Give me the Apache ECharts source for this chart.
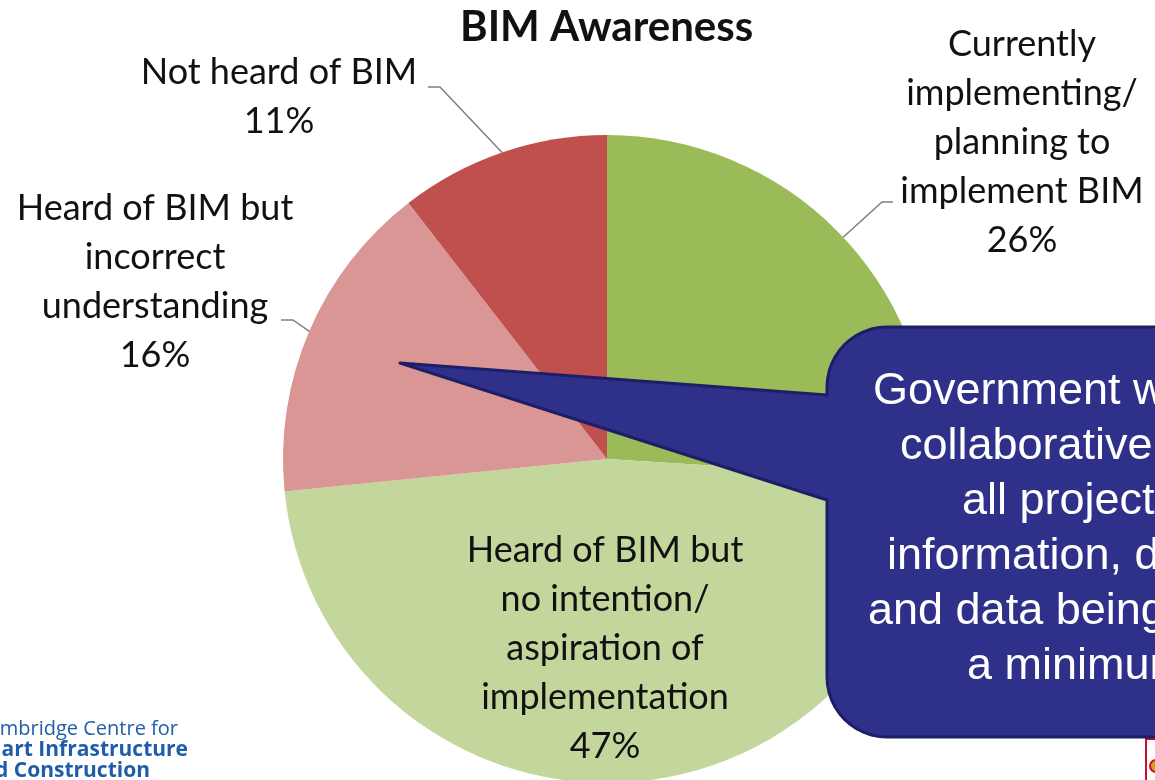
<!DOCTYPE html>
<html lang="en">
<head>
  <meta charset="UTF-8">
  <title>BIM Awareness</title>
  <script src="https://cdn.jsdelivr.net/npm/echarts@6/dist/echarts.min.js"></script>
  <style>
    html, body { margin: 0; padding: 0; background: #fff; }
    #chart { width: 1155px; height: 780px; }
  </style>
</head>
<body>
  <div id="chart"></div>
  <script>
    // data (clockwise from 12 o'clock), slice sizes estimated from the angles
    const categories = [
      'Currently\nimplementing/\nplanning to\nimplement BIM',
      'Heard of BIM but\nno intention/\naspiration of\nimplementation',
      'Heard of BIM but\nincorrect\nunderstanding',
      'Not heard of BIM'
    ];
    const shares = [26, 47.4, 16.1, 10.5];
    const sliceColors = ['#9BBB59', '#C3D69B', '#D99694', '#C0504D'];

    // callout text on the slide (box runs off the right edge)
    const calloutLines = [
      'Government will require fully',
      'collaborative 3D BIM (with',
      'all project and asset',
      'information, documentation',
      'and data being electronic) as',
      'a minimum by 2016'
    ];
    const logoLines = ['Cambridge Centre for', 'Smart Infrastructure', 'and Construction'];

    // label placement (style only)
    const labelPos = [[1022, 142], [605, 648], [155, 282], [279, 97]];
    const leaderTail = [
      [[882, 202], [893, 202]],
      null,
      [[293, 320], [281, 320]],
      [[440, 87], [428, 87]]
    ];
    const calloutX = [873, 900, 962, 887, 868, 967];

    const chart = echarts.init(document.getElementById('chart'));

    const pieData = categories.map(function (name, i) {
      const item = { name: name, value: shares[i], itemStyle: { color: sliceColors[i] } };
      if (i === 1) {
        item.labelLine = { show: false };
      }
      return item;
    });

    // outline of the speech bubble, rounded corners built from arc points
    function arcPts(cx, cy, r, a0, a1) {
      const pts = [];
      for (let k = 0; k <= 12; k++) {
        const a = a0 + (a1 - a0) * k / 12;
        pts.push([cx + r * Math.cos(a), cy + r * Math.sin(a)]);
      }
      return pts;
    }
    const bubble = [[400, 363], [827, 395]]
      .concat(arcPts(887, 387, 60, Math.PI, Math.PI * 1.5))
      .concat([[1175, 327], [1175, 737]])
      .concat(arcPts(887, 677, 60, Math.PI * 0.5, Math.PI))
      .concat([[827, 500]]);

    const graphics = [];
    graphics.push({
      type: 'polygon',
      z: 100,
      shape: { points: bubble },
      style: { fill: '#2E3089', stroke: '#1D1E68', lineWidth: 3, lineJoin: 'round' }
    });
    calloutLines.forEach(function (t, i) {
      graphics.push({
        type: 'text',
        z: 101,
        x: calloutX[i],
        y: 392 + i * 55,
        style: {
          text: t,
          fill: '#ffffff',
          font: '45px "Liberation Sans", Arial, sans-serif',
          textAlign: 'left',
          textVerticalAlign: 'middle'
        }
      });
    });
    // logo text bottom-left
    const logoRight = [178, 188, 150];
    logoLines.forEach(function (t, i) {
      graphics.push({
        type: 'text',
        z: 50,
        x: logoRight[i],
        y: 729 + i * 21,
        style: {
          text: t,
          fill: '#1F5DA8',
          font: (i === 0 ? '20px' : 'bold 21px') + ' "Open Sans", sans-serif',
          textAlign: 'right',
          textVerticalAlign: 'middle'
        }
      });
    });
    // crest fragment bottom-right
    graphics.push({
      type: 'rect', z: 50,
      shape: { x: 1146, y: 739, width: 14, height: 46 },
      style: { fill: '#ffffff', stroke: '#C8102E', lineWidth: 2 }
    });
    graphics.push({
      type: 'circle', z: 51,
      shape: { cx: 1156, cy: 766, r: 6 },
      style: { fill: '#D4A017', stroke: '#C8102E', lineWidth: 2 }
    });

    const option = {
      animation: false,
      backgroundColor: '#ffffff',
      title: {
        text: 'BIM Awareness',
        left: 455,
        top: 1,
        textStyle: {
          fontFamily: 'Lato',
          fontWeight: 'bold',
          fontSize: 42,
          color: '#111111'
        }
      },
      series: [{
        type: 'pie',
        center: [607, 459],
        radius: 324,
        startAngle: 90,
        clockwise: true,
        avoidLabelOverlap: false,
        emphasis: { disabled: true },
        label: {
          show: true,
          position: 'outside',
          formatter: function (p) { return p.name + '\n' + Math.round(p.value) + '%'; },
          fontFamily: 'Lato',
          fontSize: 36,
          lineHeight: 49,
          color: '#111111',
          align: 'center'
        },
        labelLine: {
          show: true,
          lineStyle: { color: '#7F7F7F', width: 1.5 }
        },
        labelLayout: function (params) {
          const i = params.dataIndex;
          const out = {
            x: labelPos[i][0],
            y: labelPos[i][1],
            align: 'center',
            verticalAlign: 'middle'
          };
          if (leaderTail[i] && params.labelLinePoints) {
            out.labelLinePoints = [params.labelLinePoints[0]].concat(leaderTail[i]);
          }
          return out;
        },
        data: pieData
      }],
      graphic: graphics
    };

    chart.setOption(option);
  </script>
</body>
</html>
